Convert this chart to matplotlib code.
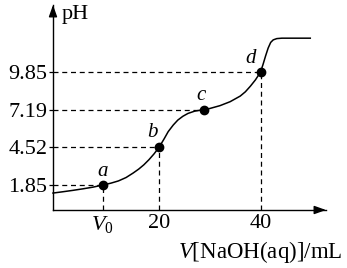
import matplotlib
matplotlib.use("Agg")
import matplotlib.pyplot as plt

plt.rcParams['font.family'] = ['Liberation Serif', 'DejaVu Serif']
plt.rcParams['mathtext.fontset'] = 'custom'
plt.rcParams['mathtext.rm'] = 'Liberation Serif'
plt.rcParams['mathtext.it'] = 'Liberation Serif:italic'

# titration curve, points
vol = [-0.9, 1.0, 3.0, 5.0, 7.0, 8.9, 10.5, 12.0, 13.5, 14.9, 16.0, 17.0, 18.0,
       19.0, 20.0, 21.0, 21.8, 22.8, 23.7, 24.7, 25.7, 27.0, 28.8, 30.0, 32.0,
       34.0, 36.0, 37.0, 38.0, 39.0, 40.0, 40.5, 41.0, 41.5, 42.0, 42.5, 43.2,
       44.2, 49.8]
ph = [1.28, 1.37, 1.47, 1.58, 1.70, 1.85, 1.98, 2.14, 2.38, 2.70, 2.98, 3.28, 3.64,
      4.05, 4.52, 5.12, 5.63, 6.10, 6.45, 6.72, 6.92, 7.08, 7.19, 7.27, 7.47,
      7.75, 8.15, 8.45, 8.85, 9.30, 9.85, 10.40, 11.00, 11.55, 11.95, 12.13, 12.22,
      12.25, 12.25]

# marked points
pt_names = ['a', 'b', 'c', 'd']
pt_vol = [8.9, 20.0, 28.8, 40.0]
pt_ph = [1.85, 4.52, 7.19, 9.85]
pt_vline = [True, True, False, True]

x_ticks = [8.9, 20, 40]
x_labels = ['$V_0$', '20', '40']
y_ticks = [1.85, 4.52, 7.19, 9.85]
y_labels = ['1.85', '4.52', '7.19', '9.85']

fig = plt.figure(figsize=(3.47, 2.68), dpi=100)
ax = fig.add_axes([53/347, 58/268, 273/347, 205/268])
ax.set_xlim(-0.9, 52.9)
ax.set_ylim(0.08, 14.6)

for s in ['top', 'right']:
    ax.spines[s].set_visible(False)
for s in ['left', 'bottom']:
    ax.spines[s].set_linewidth(1.0)

# axis arrows
ax.annotate('', xy=(1.0, 0), xytext=(0.96, 0), xycoords='axes fraction',
            arrowprops=dict(arrowstyle='-|>,head_length=0.7,head_width=0.25',
                            color='black', lw=1.0, shrinkA=0, shrinkB=0))
ax.annotate('', xy=(0, 1.0), xytext=(0, 0.95), xycoords='axes fraction',
            arrowprops=dict(arrowstyle='-|>,head_length=0.7,head_width=0.25',
                            color='black', lw=1.0, shrinkA=0, shrinkB=0))

# dashed guide lines
for v, p, vl in zip(pt_vol, pt_ph, pt_vline):
    ax.plot([ax.get_xlim()[0], v], [p, p], ls=(0, (4, 3)), color='black', lw=0.9)
    if vl:
        ax.plot([v, v], [ax.get_ylim()[0], p], ls=(0, (4, 3)), color='black', lw=0.9)

ax.plot(vol, ph, color='black', lw=1.1, clip_on=False, solid_joinstyle='round')
ax.plot(pt_vol, pt_ph, 'o', color='black', ms=6, zorder=5)

offsets = [(0, 9.5), (-4.5, 11), (-2, 10), (-7, 10)]
for name, v, p, off in zip(pt_names, pt_vol, pt_ph, offsets):
    ax.annotate(name, (v, p), xytext=off, textcoords='offset points',
                ha='center', va='center', fontsize=15, style='italic')

ax.set_xticks(x_ticks)
ax.set_xticklabels(x_labels)
ax.set_yticks(y_ticks)
ax.set_yticklabels(y_labels)
ax.tick_params(axis='y', direction='out', length=3, width=0.9, pad=1, labelsize=16)
ax.tick_params(axis='x', direction='in', length=0, pad=3, labelsize=16)

ax.text(0.03, 1.0, 'pH', transform=ax.transAxes, fontsize=16, ha='left', va='top')
ax.text(1.062, -0.205, '$V$[NaOH(aq)]/mL', transform=ax.transAxes, fontsize=16.5,
        ha='right', va='center')

fig.savefig('out.png', dpi=100)
